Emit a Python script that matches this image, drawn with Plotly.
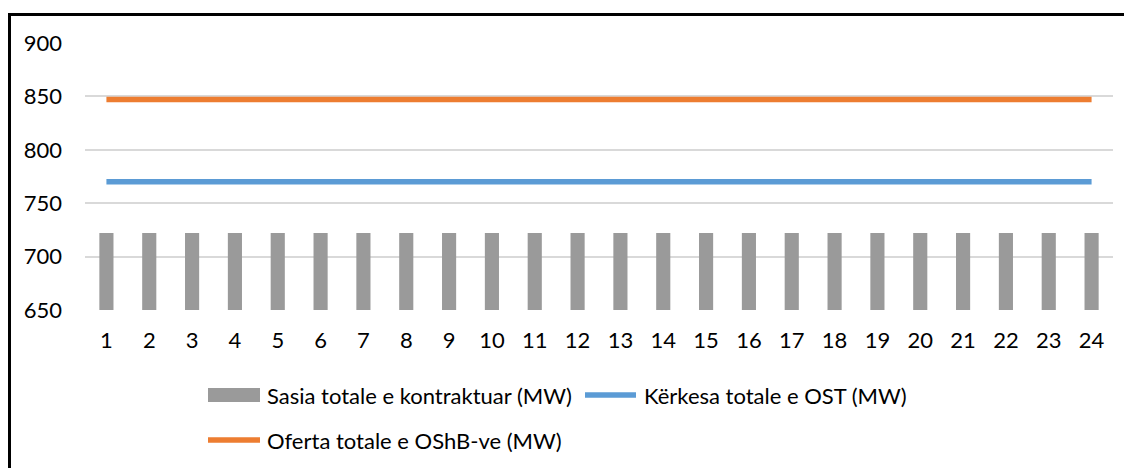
import plotly.graph_objects as go

# hours of the day
hours = [str(h) for h in range(1, 25)]
# Sasia totale e kontraktuar (MW)
contracted = [722] * 24
# Kërkesa totale e OST (MW)
demand_ost = [770] * 24
# Oferta totale e OShB-ve (MW)
offer_oshb = [847] * 24

names = ["Sasia totale e kontraktuar (MW)",
         "Kërkesa totale e OST (MW)",
         "Oferta totale e OShB-ve (MW)"]

OFF = 8  # page body margin
W, H = 1132 - OFF, 468 - OFF
# plot area in page pixels: x 85..1113, y 43..310
PX0, PX1, PY0, PY1 = 85, 1113, 43, 310
L, R, T, B = PX0 - OFF, W - (PX1 - OFF), PY0 - OFF, H - (PY1 - OFF)
PW, PH = PX1 - PX0, PY1 - PY0


def px(x):
    return (x - PX0) / PW


def py(y):
    return (PY1 - y) / PH


font = dict(family="Lato, Carlito, Calibri, sans-serif", size=22, color="#000000")

fig = go.Figure()
fig.add_trace(go.Bar(x=hours, y=contracted, name=names[0],
                     marker=dict(color="#9A9A9A", line=dict(width=0))))
fig.add_trace(go.Scatter(x=hours, y=demand_ost, name=names[1], mode="lines",
                         line=dict(color="#5B9BD5", width=5.5)))
fig.add_trace(go.Scatter(x=hours, y=offer_oshb, name=names[2], mode="lines",
                         line=dict(color="#ED7D31", width=5.5)))

shapes = [
    # outer frame
    dict(type="rect", xref="paper", yref="paper",
         x0=px(9.5), x1=px(1145), y0=py(14.5), y1=py(490),
         line=dict(color="black", width=3), fillcolor="rgba(0,0,0,0)"),
    # manual legend symbols
    dict(type="rect", xref="paper", yref="paper",
         x0=px(208), x1=px(260), y0=py(402), y1=py(388),
         line=dict(width=0), fillcolor="#9A9A9A"),
    dict(type="line", xref="paper", yref="paper",
         x0=px(585), x1=px(636), y0=py(395), y1=py(395),
         line=dict(color="#5B9BD5", width=5.5)),
    dict(type="line", xref="paper", yref="paper",
         x0=px(208), x1=px(260), y0=py(440), y1=py(440),
         line=dict(color="#ED7D31", width=5.5)),
]

annotations = [
    dict(text=names[0], x=px(265), y=py(395), xref="paper", yref="paper",
         xanchor="left", yanchor="middle", showarrow=False, font=font),
    dict(text=names[1], x=px(642), y=py(395), xref="paper", yref="paper",
         xanchor="left", yanchor="middle", showarrow=False, font=font),
    dict(text=names[2], x=px(265), y=py(440), xref="paper", yref="paper",
         xanchor="left", yanchor="middle", showarrow=False, font=font),
]

fig.update_layout(
    width=W, height=H,
    margin=dict(l=L, r=R, t=T, b=B, autoexpand=False),
    paper_bgcolor="white", plot_bgcolor="white",
    font=font,
    showlegend=False,
    bargap=0.67,
    shapes=shapes,
    annotations=annotations,
)
fig.update_xaxes(type="category", showgrid=False, showline=False, zeroline=False,
                 ticks="", ticklabelstandoff=15, tickfont=font)
fig.update_yaxes(range=[650, 900], dtick=50, showgrid=True, gridcolor="#D9D9D9",
                 gridwidth=1.5, zeroline=False, showline=False, ticks="",
                 ticklabelstandoff=22, tickfont=font)

fig.write_html("out.html")
